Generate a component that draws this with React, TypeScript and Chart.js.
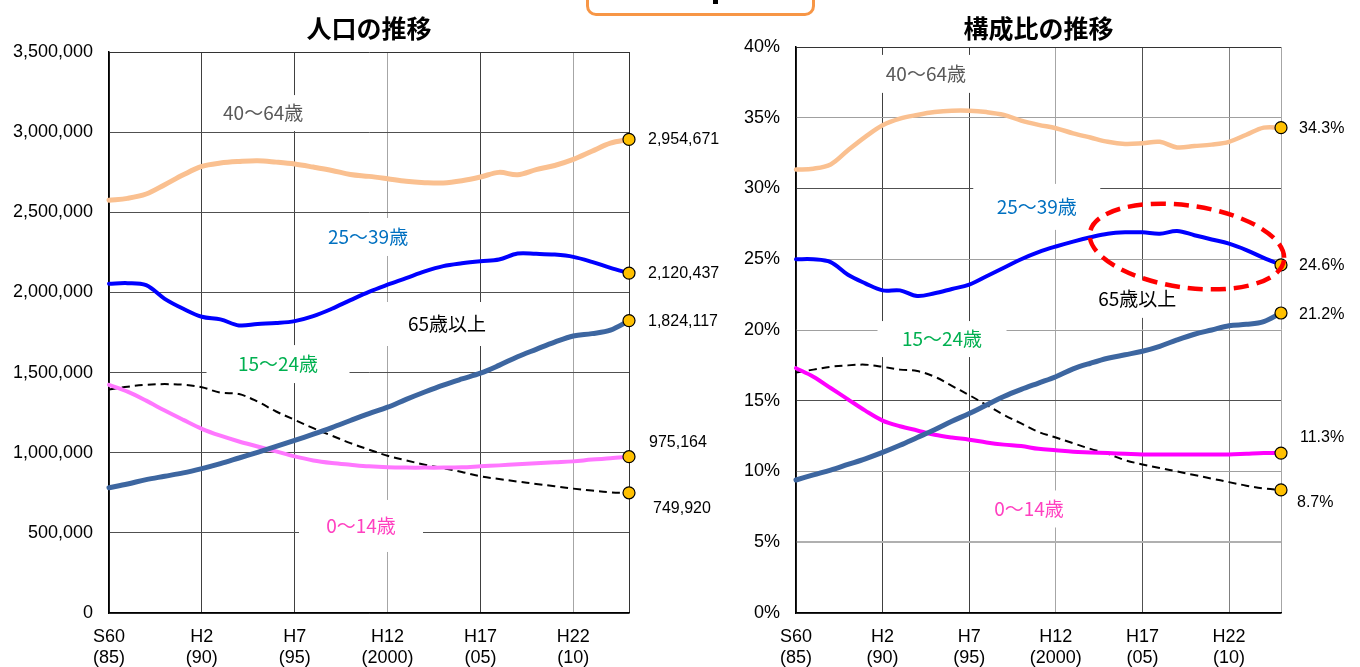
import React, { useEffect, useRef } from 'react';
import { Chart, registerables } from 'chart.js';

Chart.register(...registerables);

// ---------- data ----------
const years = [
  1985, 1986, 1987, 1988, 1989, 1990, 1991, 1992, 1993, 1994,
  1995, 1996, 1997, 1998, 1999, 2000, 2001, 2002, 2003, 2004,
  2005, 2006, 2007, 2008, 2009, 2010, 2011, 2012, 2013,
];

const tickYears = [1985, 1990, 1995, 2000, 2005, 2010];
const tickEraLabels = ['S60', 'H2', 'H7', 'H12', 'H17', 'H22'];
const tickWesternLabels = ['(85)', '(90)', '(95)', '(2000)', '(05)', '(10)'];

const seriesNames = ['65歳以上', '25〜39歳', '40〜64歳', '0〜14歳', '15〜24歳'];

// population (people)
const pop65plus = [
  781000, 805000, 832000, 853000, 874000, 901000, 932000, 967000, 1002000, 1039000,
  1077000, 1116000, 1157000, 1201000, 1244000, 1284000, 1333000, 1379000, 1422000, 1460000,
  1496000, 1545000, 1599000, 1645000, 1690000, 1728000, 1743000, 1765000, 1824117,
];
const pop25to39 = [
  2054000, 2058000, 2045000, 1960000, 1898000, 1848000, 1832000, 1794000, 1803000, 1809000,
  1821000, 1852000, 1898000, 1952000, 2004000, 2048000, 2089000, 2131000, 2164000, 2182000,
  2195000, 2205000, 2243000, 2241000, 2236000, 2222000, 2191000, 2153000, 2120437,
];
const pop40to64 = [
  2575000, 2587000, 2614000, 2672000, 2734000, 2786000, 2807000, 2817000, 2822000, 2813000,
  2801000, 2782000, 2761000, 2736000, 2724000, 2709000, 2693000, 2685000, 2683000, 2697000,
  2720000, 2749000, 2734000, 2766000, 2792000, 2830000, 2881000, 2931000, 2954671,
];
const pop0to14 = [
  1424000, 1381000, 1325000, 1263000, 1205000, 1149000, 1106000, 1070000, 1039000, 1008000,
  977000, 952000, 936000, 925000, 915000, 909000, 907000, 907000, 907000, 909000,
  915000, 921000, 928000, 934000, 940000, 946000, 957000, 965000, 975164,
];
const pop15to24 = [
  1395000, 1412000, 1424000, 1428000, 1424000, 1408000, 1375000, 1366000, 1319000, 1257000,
  1205000, 1153000, 1106000, 1060000, 1019000, 981000, 952000, 925000, 903000, 880000,
  853000, 836000, 820000, 805000, 791000, 776000, 764000, 753000, 749920,
];

// composition ratio (%)
const ratio65plus = [
  9.4, 9.76, 10.1, 10.5, 10.9, 11.35, 11.85, 12.4, 12.95, 13.55,
  14.1, 14.7, 15.3, 15.8, 16.25, 16.7, 17.25, 17.65, 18.0, 18.25,
  18.5, 18.85, 19.3, 19.7, 20.0, 20.3, 20.4, 20.6, 21.2,
];
const ratio25to39 = [
  25.0, 25.0, 24.8, 23.9, 23.3, 22.8, 22.8, 22.4, 22.6, 22.9,
  23.2, 23.8, 24.4, 25.0, 25.5, 25.9, 26.25, 26.55, 26.8, 26.9,
  26.9, 26.8, 27.0, 26.7, 26.4, 26.1, 25.65, 25.1, 24.6,
];
const ratio40to64 = [
  31.34, 31.4, 31.7, 32.7, 33.65, 34.47, 34.94, 35.2, 35.4, 35.5,
  35.5, 35.4, 35.2, 34.8, 34.5, 34.26, 33.9, 33.6, 33.3, 33.15,
  33.2, 33.3, 32.9, 33.0, 33.1, 33.3, 33.8, 34.3, 34.3,
];
const ratio0to14 = [
  17.3, 16.7, 15.9, 15.1, 14.3, 13.6, 13.2, 12.9, 12.6, 12.4,
  12.25, 12.05, 11.9, 11.8, 11.6, 11.5, 11.4, 11.35, 11.3, 11.25,
  11.2, 11.2, 11.2, 11.2, 11.2, 11.2, 11.25, 11.3, 11.3,
];
const ratio15to24 = [
  17.0, 17.2, 17.4, 17.5, 17.55, 17.4, 17.2, 17.1, 16.7, 16.05,
  15.4, 14.7, 14.0, 13.4, 12.8, 12.4, 12.0, 11.6, 11.25, 10.8,
  10.5, 10.25, 10.0, 9.75, 9.5, 9.25, 9.0, 8.8, 8.7,
];

// ---------- styles ----------
const AXIS_FONT = '"Liberation Sans", Arial, sans-serif';
const CJK_FONT = '"Noto Sans CJK JP", "Noto Sans", sans-serif';

type SeriesStyle = { color: string; width: number; dash?: number[] };
type ValueLabelStyle = { dx: number; dy: number };
type Ann = { text: string; x: number; y: number; color: string; boxW: number; boxH: number };

type ChartCfg = {
  title: string;
  values: number[][];
  styles: SeriesStyle[];
  valueLabelOffsets: ValueLabelStyle[];
  formatValue: (v: number) => string;
  yMax: number;
  yStep: number;
  yTick: (v: number) => string;
  yGridColors: Record<number, string>;
  yGridWidths: Record<number, number>;
  xGridColors: Record<number, string>;
  annotations: Ann[];
  ellipse?: { x: number; y: number; rx: number; ry: number; rot: number };
  canvasW: number;
  plotLeft: number;
  plotRight: number;
  plotTop: number;
  plotBottom: number;
};

function makePlugin(cfg: ChartCfg) {
  return {
    id: 'customDecor',
    beforeDatasetsDraw(chart: any) {
      const { ctx, scales } = chart;
      const xs = scales.x;
      const ys = scales.y;
      ctx.save();
      for (const a of cfg.annotations) {
        const px = xs.getPixelForValue(a.x);
        const py = ys.getPixelForValue(a.y);
        ctx.fillStyle = '#ffffff';
        ctx.fillRect(px - a.boxW / 2, py - a.boxH / 2, a.boxW, a.boxH);
        ctx.font = `19px ${CJK_FONT}`;
        ctx.fillStyle = a.color;
        ctx.textAlign = 'center';
        ctx.textBaseline = 'middle';
        ctx.fillText(a.text, px, py);
      }
      ctx.restore();
    },
    afterDatasetsDraw(chart: any) {
      const { ctx, scales } = chart;
      ctx.save();
      if (cfg.ellipse) {
        const e = cfg.ellipse;
        const cx = scales.x.getPixelForValue(e.x);
        const cy = scales.y.getPixelForValue(e.y);
        ctx.beginPath();
        ctx.ellipse(cx, cy, e.rx, e.ry, e.rot, 0, Math.PI * 2);
        ctx.setLineDash([15, 8]);
        ctx.lineWidth = 4.5;
        ctx.strokeStyle = '#FF0000';
        ctx.stroke();
        ctx.setLineDash([]);
      }
      ctx.font = `16px ${AXIS_FONT}`;
      ctx.fillStyle = '#000';
      ctx.textAlign = 'left';
      ctx.textBaseline = 'middle';
      cfg.values.forEach((vals, i) => {
        const meta = chart.getDatasetMeta(i);
        const pt = meta.data[vals.length - 1];
        const off = cfg.valueLabelOffsets[i];
        ctx.fillText(cfg.formatValue(vals[vals.length - 1]), pt.x + off.dx, pt.y + off.dy);
      });
      ctx.restore();
    },
    afterDraw(chart: any) {
      const { ctx, chartArea } = chart;
      ctx.save();
      ctx.font = `bold 25px ${CJK_FONT}`;
      ctx.fillStyle = '#000';
      ctx.textAlign = 'center';
      ctx.textBaseline = 'middle';
      ctx.fillText(cfg.title, (chartArea.left + chartArea.right) / 2, 28);
      ctx.restore();
    },
  };
}

function buildConfig(cfg: ChartCfg): any {
  const last = years.length - 1;
  return {
    type: 'line',
    data: {
      datasets: cfg.values.map((vals, i) => ({
        label: seriesNames[i],
        data: years.map((yr, j) => ({ x: yr, y: vals[j] })),
        borderColor: cfg.styles[i].color,
        borderWidth: cfg.styles[i].width,
        borderDash: cfg.styles[i].dash || [],
        borderCapStyle: cfg.styles[i].dash ? 'butt' : 'round',
        borderJoinStyle: 'round',
        tension: 0.35,
        fill: false,
        clip: false,
        pointRadius: (c: any) => (c.dataIndex === last ? 6 : 0),
        pointHoverRadius: 0,
        pointBackgroundColor: '#FFC000',
        pointBorderColor: '#000',
        pointBorderWidth: 1.2,
      })),
    },
    options: {
      responsive: false,
      animation: false,
      events: [],
      layout: {
        padding: { left: 0, top: cfg.plotTop, right: cfg.canvasW - cfg.plotRight, bottom: 0 },
      },
      plugins: {
        legend: { display: false },
        tooltip: { enabled: false },
        title: { display: false },
      },
      scales: {
        x: {
          type: 'linear',
          min: years[0],
          max: years[last],
          afterBuildTicks: (s: any) => {
            s.ticks = tickYears.concat([years[last]]).map((v) => ({ value: v }));
          },
          afterFit: (s: any) => {
            s.height = 667 - cfg.plotBottom;
          },
          ticks: {
            autoSkip: false,
            maxRotation: 0,
            minRotation: 0,
            padding: 13,
            color: '#000',
            font: { family: AXIS_FONT, size: 18, lineHeight: 1.2 },
            callback: (v: number) => {
              const i = tickYears.indexOf(v);
              return i >= 0 ? [tickEraLabels[i], tickWesternLabels[i]] : '';
            },
          },
          grid: {
            drawTicks: false,
            color: (c: any) => cfg.xGridColors[c.tick?.value] || '#404040',
            lineWidth: 1,
          },
          border: { display: true, color: '#000', width: 1.5 },
        },
        y: {
          type: 'linear',
          min: 0,
          max: cfg.yMax,
          afterFit: (s: any) => {
            s.width = cfg.plotLeft;
          },
          ticks: {
            stepSize: cfg.yStep,
            padding: 16,
            color: '#000',
            font: { family: AXIS_FONT, size: 18 },
            callback: (v: number) => cfg.yTick(v),
          },
          grid: {
            drawTicks: false,
            color: (c: any) => cfg.yGridColors[c.tick?.value] || '#505050',
            lineWidth: (c: any) => cfg.yGridWidths[c.tick?.value] || 1,
          },
          border: { display: true, color: '#000', width: 1.5 },
        },
      },
    },
    plugins: [makePlugin(cfg)],
  };
}

const LEFT_W = 735;
const RIGHT_W = 625;

const populationCfg: ChartCfg = {
  title: '人口の推移',
  values: [pop65plus, pop25to39, pop40to64, pop0to14, pop15to24],
  styles: [
    { color: '#3D66A0', width: 5 },
    { color: '#0000FF', width: 4 },
    { color: '#FAC090', width: 5 },
    { color: '#FF77FF', width: 4 },
    { color: '#000000', width: 2, dash: [8, 5] },
  ],
  valueLabelOffsets: [
    { dx: 19, dy: 1 },
    { dx: 19, dy: 0 },
    { dx: 19, dy: 0 },
    { dx: 20, dy: -14 },
    { dx: 24, dy: 16 },
  ],
  formatValue: (v) => v.toLocaleString('en-US'),
  yMax: 3500000,
  yStep: 500000,
  yTick: (v) => v.toLocaleString('en-US'),
  yGridColors: { 3500000: '#333333' },
  yGridWidths: {},
  xGridColors: { 1990: '#404040', 1995: '#404040', 2000: '#A6A6A6', 2005: '#404040', 2010: '#A6A6A6', 2013: '#333333' },
  annotations: [
    { text: '40〜64歳', x: 1993.3, y: 3119000, color: '#595959', boxW: 120, boxH: 36 },
    { text: '25〜39歳', x: 1998.95, y: 2346000, color: '#0070C0', boxW: 96, boxH: 38 },
    { text: '65歳以上', x: 2003.2, y: 1803000, color: '#000000', boxW: 120, boxH: 44 },
    { text: '15〜24歳', x: 1994.1, y: 1553000, color: '#00B050', boxW: 143, boxH: 38 },
    { text: '0〜14歳', x: 1998.57, y: 543000, color: '#FF40C0', boxW: 124, boxH: 52 },
  ],
  canvasW: LEFT_W,
  plotLeft: 109,
  plotRight: 629,
  plotTop: 52,
  plotBottom: 613,
};

const ratioCfg: ChartCfg = {
  title: '構成比の推移',
  values: [ratio65plus, ratio25to39, ratio40to64, ratio0to14, ratio15to24],
  styles: [
    { color: '#3D66A0', width: 5 },
    { color: '#0000FF', width: 4 },
    { color: '#FAC090', width: 4.5 },
    { color: '#FF00FF', width: 4 },
    { color: '#000000', width: 2, dash: [8, 5] },
  ],
  valueLabelOffsets: [
    { dx: 18, dy: 2 },
    { dx: 18, dy: 1 },
    { dx: 18, dy: 1 },
    { dx: 19, dy: -16 },
    { dx: 16, dy: 13 },
  ],
  formatValue: (v) => v.toFixed(1) + '%',
  yMax: 40,
  yStep: 5,
  yTick: (v) => v + '%',
  yGridColors: { 5: '#B0B0B0', 10: '#A0A0A0', 15: '#505050', 20: '#A0A0A0', 25: '#A0A0A0', 30: '#505050', 35: '#A0A0A0', 40: '#333333' },
  yGridWidths: { 5: 2 },
  xGridColors: { 1990: '#404040', 1995: '#404040', 2000: '#A6A6A6', 2005: '#505050', 2010: '#808080', 2013: '#A6A6A6' },
  annotations: [
    { text: '40〜64歳', x: 1992.5, y: 38.1, color: '#595959', boxW: 100, boxH: 38 },
    { text: '25〜39歳', x: 1998.9, y: 28.7, color: '#0070C0', boxW: 127, boxH: 46 },
    { text: '65歳以上', x: 2004.7, y: 22.2, color: '#000000', boxW: 105, boxH: 38 },
    { text: '15〜24歳', x: 1993.43, y: 19.36, color: '#00B050', boxW: 129, boxH: 36 },
    { text: '0〜14歳', x: 1998.45, y: 7.35, color: '#FF40C0', boxW: 90, boxH: 37 },
  ],
  ellipse: { x: 2007.57, y: 25.9, rx: 98, ry: 41, rot: 0.14 },
  canvasW: RIGHT_W,
  plotLeft: 61,
  plotRight: 546,
  plotTop: 47,
  plotBottom: 613,
};

function LineChart({ cfg, left }: { cfg: ChartCfg; left: number }) {
  const ref = useRef<HTMLCanvasElement>(null);
  useEffect(() => {
    const chart = new Chart(ref.current as HTMLCanvasElement, buildConfig(cfg));
    return () => chart.destroy();
  }, [cfg]);
  return (
    <canvas
      ref={ref}
      width={cfg.canvasW}
      height={667}
      style={{ position: 'absolute', left, top: 0, width: cfg.canvasW, height: 667 }}
    />
  );
}

export default function App() {
  return (
    <div
      style={{
        position: 'absolute',
        left: 0,
        top: 0,
        width: 1360,
        height: 667,
        background: '#ffffff',
        overflow: 'hidden',
      }}
    >
      <LineChart cfg={populationCfg} left={0} />
      <LineChart cfg={ratioCfg} left={LEFT_W} />
      <div
        style={{
          position: 'absolute',
          left: 586,
          top: -30,
          width: 229,
          height: 46,
          boxSizing: 'border-box',
          border: '3px solid #F79646',
          borderRadius: 10,
          background: '#ffffff',
        }}
      />
      <div style={{ position: 'absolute', left: 713, top: 0, width: 5, height: 4, background: '#000' }} />
    </div>
  );
}
